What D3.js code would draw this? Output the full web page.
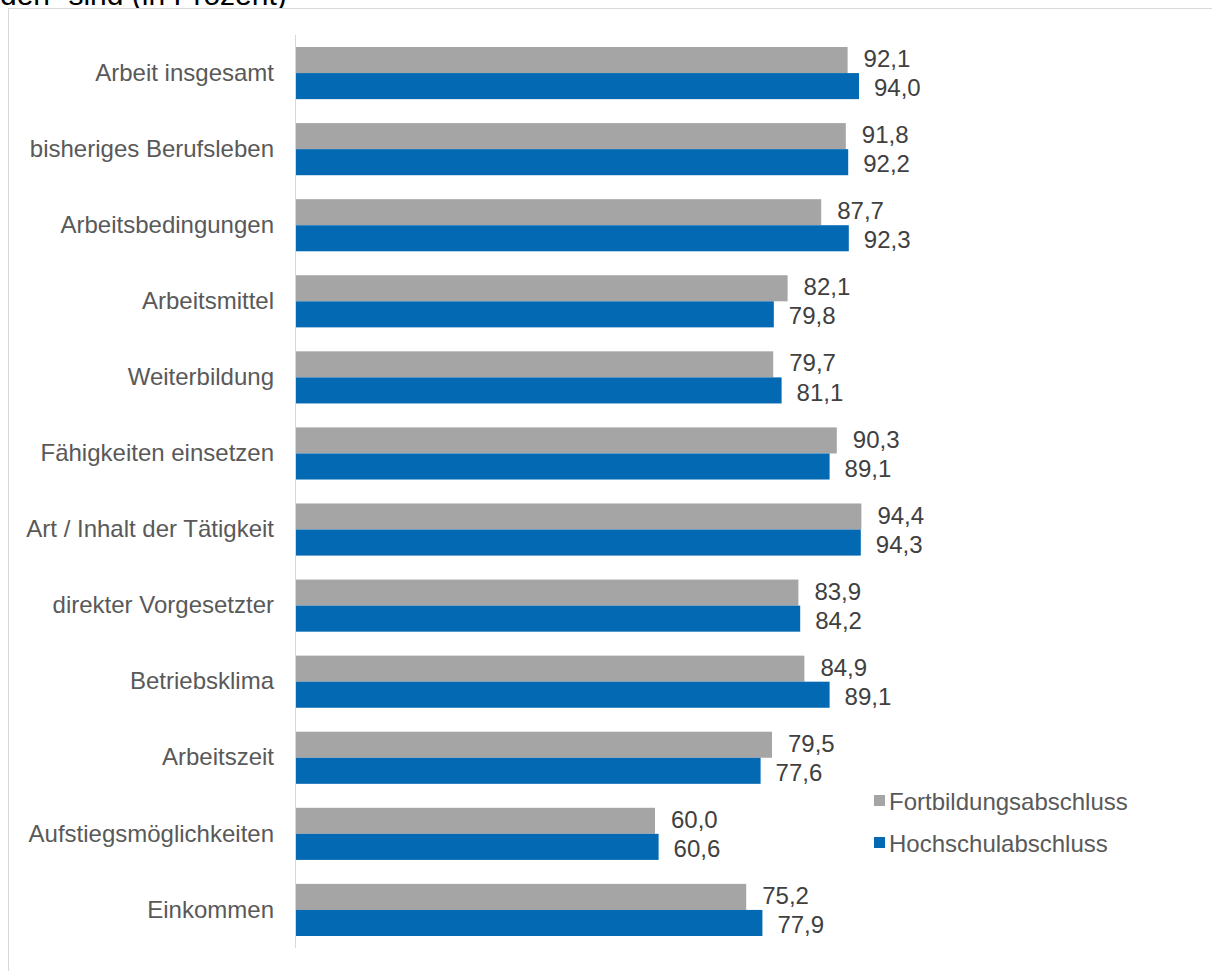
<!DOCTYPE html>
<html>
<head>
<meta charset="utf-8">
<script src="https://cdn.jsdelivr.net/npm/d3@7"></script>
<style>
  html, body { margin: 0; padding: 0; background: #fff; }
  svg { display: block; font-family: "Liberation Sans", Arial, sans-serif; }
</style>
</head>
<body>
<svg id="chart" width="1212" height="971"></svg>
<script>
// Zufriedenheit nach Abschlussart (Anteile in Prozent)
const categories = [
  "Arbeit insgesamt",
  "bisheriges Berufsleben",
  "Arbeitsbedingungen",
  "Arbeitsmittel",
  "Weiterbildung",
  "Fähigkeiten einsetzen",
  "Art / Inhalt der Tätigkeit",
  "direkter Vorgesetzter",
  "Betriebsklima",
  "Arbeitszeit",
  "Aufstiegsmöglichkeiten",
  "Einkommen"
];
const fortbildung = [92.1, 91.8, 87.7, 82.1, 79.7, 90.3, 94.4, 83.9, 84.9, 79.5, 60.0, 75.2];
const hochschule  = [94.0, 92.2, 92.3, 79.8, 81.1, 89.1, 94.3, 84.2, 89.1, 77.6, 60.6, 77.9];
const seriesNames = ["Fortbildungsabschluss", "Hochschulabschluss"];
const seriesColors = ["#a5a5a5", "#0369b3"];
const titleTail = "den\u201c sind (in Prozent)";

const svg = d3.select("#chart");
const fmt = v => d3.format(".1f")(v).replace(".", ",");
const FS = 24;

// Rest der Überschrift (oberhalb des Diagrammbereichs)
svg.append("text")
  .attr("x", 0).attr("y", 5)
  .attr("font-size", 30).attr("fill", "#000")
  .text(titleTail);

// Diagrammbereich mit Rahmen
svg.append("rect")
  .attr("x", 8.5).attr("y", 8.5)
  .attr("width", 1230).attr("height", 1000)
  .attr("fill", "#fff").attr("stroke", "#d9d9d9").attr("stroke-width", 1);

const x = d3.scaleLinear().domain([0, 100]).range([295, 895]);
const y = d3.scaleBand().domain(categories).range([35, 948]).paddingInner(0.315).paddingOuter(0.158);
const sub = d3.scaleBand().domain([0, 1]).range([0, y.bandwidth()]);

const rows = categories.map((c, i) => ({ c, vals: [fortbildung[i], hochschule[i]] }));

const g = svg.append("g");
rows.forEach(r => {
  r.vals.forEach((v, k) => {
    const y0 = y(r.c) + sub(k);
    g.append("rect")
      .attr("x", x(0)).attr("y", y0)
      .attr("width", x(v) - x(0)).attr("height", sub.bandwidth())
      .attr("fill", seriesColors[k]);
    g.append("text")
      .attr("x", x(v) + (k === 0 ? 16 : 15))
      .attr("y", y0 + sub.bandwidth() / 2 + (k === 0 ? -1.5 : 1.5))
      .attr("dy", "0.36em")
      .attr("font-size", FS).attr("fill", "#404040")
      .text(fmt(v));
  });
});

// Kategorienachse
const yAxis = d3.axisLeft(y).tickSize(0).tickPadding(21);
const ax = svg.append("g").attr("transform", `translate(${x(0)},0)`).call(yAxis);
ax.select(".domain").attr("stroke", "#d9d9d9").attr("d", "M0.5,35V948");
ax.selectAll("text")
  .attr("font-size", FS).attr("fill", "#595959")
  .attr("font-family", "Liberation Sans, Arial, sans-serif");

// Legende
const leg = svg.append("g");
seriesNames.forEach((n, k) => {
  const ly = 801 + k * 42;
  leg.append("rect").attr("x", 874).attr("y", ly - 6).attr("width", 11).attr("height", 11).attr("fill", seriesColors[k]);
  leg.append("text").attr("x", 889).attr("y", ly).attr("dy", "0.36em")
    .attr("font-size", FS).attr("fill", "#595959").text(n);
});
</script>
</body>
</html>
